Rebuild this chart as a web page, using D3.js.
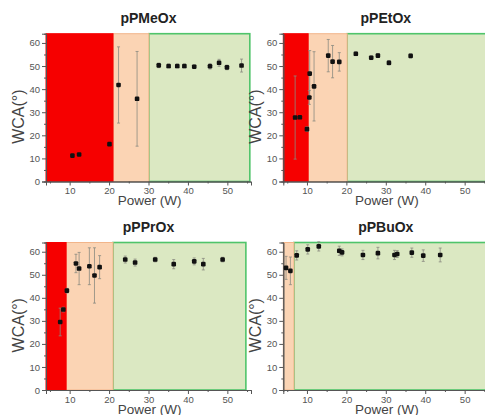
<!DOCTYPE html>
<html>
<head>
<meta charset="utf-8">
<script src="https://cdn.jsdelivr.net/npm/d3@7"></script>
<style>
body { margin: 0; background: #fff; }
text { font-family: "Liberation Sans", Arial, sans-serif; }
</style>
</head>
<body>
<div id="chart"></div>
<script>
// values
const titles = ["pPMeOx", "pPEtOx", "pPPrOx", "pPBuOx"];

const meoxPower = [10.7, 12.4, 20.1, 22.4, 27.1, 32.6, 35.1, 37.3, 39.1, 41.6, 45.6, 47.9, 49.9, 53.6];
const meoxWca   = [11.2, 11.7, 16.2, 41.8, 35.8, 50.3, 50.0, 50.0, 50.0, 49.7, 49.9, 51.4, 49.4, 50.2];
const meoxErr   = [0.4, 0.4, 0.4, 16.5, 20.5, 1, 0.8, 0.8, 0.8, 0.8, 1.2, 1.5, 1, 2.8];

const etoxPower = [7.0, 8.2, 10.0, 10.6, 10.7, 11.8, 15.4, 16.5, 18.2, 22.4, 26.3, 28.0, 30.8, 36.3];
const etoxWca   = [27.7, 27.8, 22.7, 36.4, 46.7, 41.2, 54.5, 51.9, 51.8, 55.3, 53.6, 54.5, 51.4, 54.4];
const etoxErr   = [18, 0.5, 1, 3, 10, 15, 7, 7, 4, 0.8, 0.8, 0.8, 1, 0.8];

const proxPower = [7.6, 8.4, 9.3, 11.6, 12.4, 15.0, 16.3, 17.6, 24.1, 26.6, 31.7, 36.4, 41.6, 43.9, 48.8];
const proxWca   = [29.5, 34.9, 43.1, 54.9, 52.7, 53.7, 49.7, 53.3, 56.6, 55.3, 56.6, 54.6, 55.8, 54.6, 56.6];
const proxErr   = [6, 1, 1, 4, 7, 8, 12, 5, 1.5, 1.5, 1, 2, 1.5, 2.5, 1];

const buoxPower = [4.7, 5.8, 7.4, 10.2, 13.0, 18.2, 18.9, 24.2, 28.0, 32.2, 32.9, 36.6, 39.5, 43.8];
const buoxWca   = [53.0, 51.7, 58.4, 61.0, 62.3, 60.4, 59.7, 58.6, 59.4, 58.6, 59.0, 59.6, 58.3, 58.6];
const buoxErr   = [5, 6, 2, 2, 2, 2, 1.5, 2, 2.5, 2, 1.5, 2, 2.5, 3];

// power where each zone ends: red, orange, green
const meoxZones = [21, 30.1, 55.7];
const etoxZones = [10.3, 20.2, 57];
const proxZones = [9.1, 21, 54.7];
const buoxZones = [4, 6.7, 57];

const xTicks = [10, 20, 30, 40, 50];
const yTicks = [0, 10, 20, 30, 40, 50, 60];

const series = [
    {power: meoxPower, wca: meoxWca, err: meoxErr, zones: meoxZones},
    {power: etoxPower, wca: etoxWca, err: etoxErr, zones: etoxZones},
    {power: proxPower, wca: proxWca, err: proxErr, zones: proxZones},
    {power: buoxPower, wca: buoxWca, err: buoxErr, zones: buoxZones}
];

// layout
const lefts = [46, 283.3, 46, 283.3];
const tops = [33.7, 33.7, 242.5, 242.5];
const bottoms = [181.5, 181.5, 390, 390];
const plotW = 205;
const zoneFill = ["#f60000", "#fbd4b4", "#dbe8c2"];
const zoneStroke = ["#f60000", "#f2b58a", "#4fc46a"];

const svg = d3.select("#chart")
.append("svg")
.attr("width", 485)
.attr("height", 415);

series.forEach((s, i) => {
    const x = d3.scaleLinear().domain([4, 56]).range([lefts[i], lefts[i] + plotW]);
    const y = d3.scaleLinear().domain([0, 64]).range([bottoms[i], tops[i]]);
    const g = svg.append("g");

    // zones
    const starts = [4, s.zones[0], s.zones[1]];
    [2, 1, 0].forEach(k => {
        const w = x(s.zones[k]) - x(starts[k]);
        if (w <= 0) return;
        g.append("rect")
        .attr("x", x(starts[k]))
        .attr("y", y(64))
        .attr("width", w)
        .attr("height", y(0) - y(64))
        .attr("fill", zoneFill[k])
        .attr("stroke", zoneStroke[k])
        .attr("stroke-width", k == 2 ? 1.6 : 1);
    });

    // axes
    g.append("g")
    .attr("transform", `translate(${lefts[i]},0)`)
    .call(d3.axisLeft(y).tickValues(yTicks).tickSize(4).tickPadding(2));
    g.append("g")
    .attr("transform", `translate(${lefts[i]},0)`)
    .call(d3.axisLeft(y).tickValues(d3.range(5, 64, 10)).tickSize(2).tickFormat(""));

    g.append("g")
    .attr("transform", `translate(0,${bottoms[i]})`)
    .call(d3.axisBottom(x).tickValues(xTicks).tickSize(4).tickPadding(2));
    g.append("g")
    .attr("transform", `translate(0,${bottoms[i]})`)
    .call(d3.axisBottom(x).tickValues([5, 15, 25, 35, 45, 55]).tickSize(2).tickFormat(""));

    g.selectAll(".domain").attr("stroke", "#555").attr("stroke-width", 1);
    g.selectAll(".tick line").attr("stroke", "#555");
    g.selectAll(".tick text").attr("fill", "#555").attr("font-size", 9.5)
    .attr("font-family", "'Liberation Sans', Arial, sans-serif");

    // labels
    g.append("text")
    .attr("x", lefts[i] + plotW / 2)
    .attr("y", tops[i] - 10.5)
    .attr("text-anchor", "middle")
    .attr("font-size", 14)
    .attr("font-weight", "bold")
    .attr("fill", "#222")
    .text(titles[i]);

    g.append("text")
    .attr("x", lefts[i] + plotW / 2 + 1)
    .attr("y", bottoms[i] + 23.5)
    .attr("text-anchor", "middle")
    .attr("font-size", 13.5)
    .attr("fill", "#444")
    .text("Power (W)");

    const ly = (tops[i] + bottoms[i]) / 2 + 9;
    g.append("text")
    .attr("transform", `translate(${lefts[i] - 22},${ly}) rotate(-90)`)
    .attr("text-anchor", "middle")
    .attr("font-size", 16)
    .attr("fill", "#444")
    .text("WCA(°)");

    // error bars and points
    const pts = s.power.map((p, j) => [p, s.wca[j], s.err[j]]);
    g.selectAll(".err")
    .data(pts)
    .join("line")
    .attr("x1", d => x(d[0]))
    .attr("x2", d => x(d[0]))
    .attr("y1", d => y(d[1] - d[2]))
    .attr("y2", d => y(d[1] + d[2]))
    .attr("stroke", "#8a8a80")
    .attr("stroke-width", 0.8);
    pts.forEach(d => {
        [d[1] - d[2], d[1] + d[2]].forEach(v => {
            g.append("line")
            .attr("x1", x(d[0]) - 1.5).attr("x2", x(d[0]) + 1.5)
            .attr("y1", y(v)).attr("y2", y(v))
            .attr("stroke", "#8a8a80")
            .attr("stroke-width", 0.8);
        });
    });
    g.selectAll(".pt")
    .data(pts)
    .join("rect")
    .attr("x", d => x(d[0]) - 2.3)
    .attr("y", d => y(d[1]) - 2.3)
    .attr("width", 4.6)
    .attr("height", 4.6)
    .attr("rx", 1.2)
    .attr("fill", "#111");
});
</script>
</body>
</html>
